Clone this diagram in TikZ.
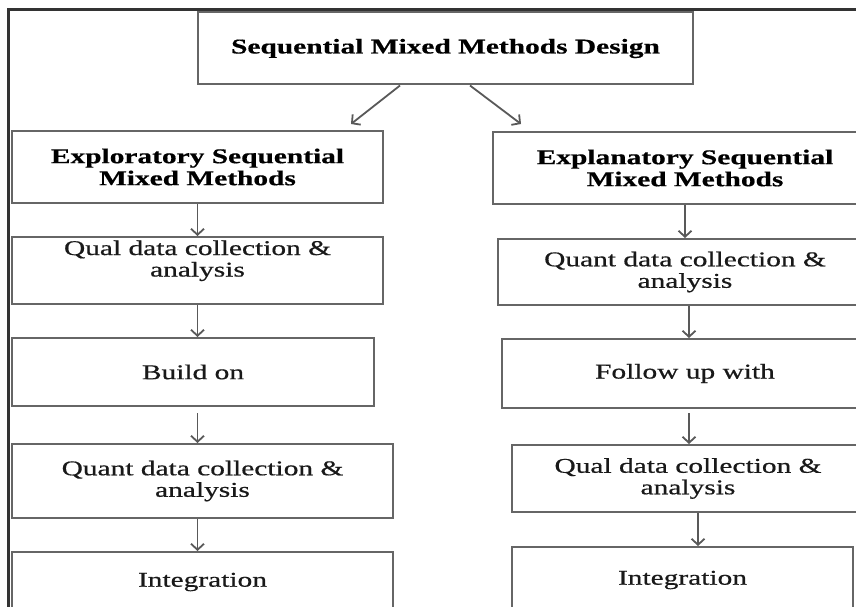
\documentclass[tikz,border=0pt]{standalone}
\usepackage{fontspec}
\setmainfont{Liberation Serif}[FakeStretch=1.4,FakeBold=0.6]
\usetikzlibrary{arrows.meta,calc}
\begin{document}
\begin{tikzpicture}[x=1pt,y=1pt,
  box/.style={draw=black!60,line width=2pt,fill=white,rectangle,inner sep=0pt,
    align=center,text=black!90,font=\fontsize{21}{21.5}\selectfont},
  bbox/.style={box,text=black,font=\fontsize{21}{22}\selectfont\bfseries},
  arr/.style={draw=black!65,line width=1.8pt,-{Straight Barb[length=6pt,width=13pt]}},
  frame/.style={draw=black!80,line width=2.8pt}]
\useasboundingbox (0,0) rectangle (856,-607);
\clip (0,0) rectangle (856,-607);
\fill[white] (0,0) rectangle (856,-607);
% outer frame
\coordinate (fa) at (8.5,-9.5);
\coordinate (fb) at (860,-9.5);
\coordinate (fc) at (8.5,-612);
\draw[frame] (fb) -- (fa) -- (fc);
% top
\node[bbox,minimum width=495,minimum height=72] (top) at (445.5,-48.5) {Sequential Mixed Methods Design};
% left column
\node[bbox,minimum width=371,minimum height=72] (l1) at (197.5,-167) {Exploratory Sequential\\Mixed Methods};
\node[box,minimum width=371,minimum height=67,text depth=24pt] (l2) at (197.5,-270.5) {Qual data collection \&\\analysis};
\node[box,minimum width=362,minimum height=68] (l3) at (193,-372) {Build on};
\node[box,minimum width=381,minimum height=74] (l4) at (202.5,-481) {Quant data collection \&\\analysis};
\node[box,minimum width=381,minimum height=60] (l5) at (202.5,-582) {Integration};
% right column
\node[bbox,minimum width=384,minimum height=72] (r1) at (685,-168) {Explanatory Sequential\\Mixed Methods};
\node[box,minimum width=374,minimum height=66] (r2) at (685,-272) {Quant data collection \&\\analysis};
\node[box,minimum width=366,minimum height=69] (r3) at (685,-373.5) {Follow up with};
\node[box,minimum width=352,minimum height=67] (r4) at (688,-478.5) {Qual data collection \&\\analysis};
\node[box,minimum width=341,minimum height=66] (r5) at (682.5,-580) {Integration};
% arrows from top
\draw[arr] ($(top.south)+(-45.5,0)$) -- ($(l1.north east)+(-33,6)$);
\draw[arr] ($(top.south)+(24.5,0)$) -- ($(r1.north west)+(29,7)$);
% left arrows
\draw[arr] (l1.south) -- (l2.north);
\draw[arr] (l2.south) -- (l2.south |- l3.north);
\draw[arr] ($(l2.south |- l3.south)+(0,-6)$) -- (l2.south |- l4.north);
\draw[arr] (l2.south |- l4.south) -- (l2.south |- l5.north);
% right arrows
\draw[arr] (r1.south) -- (r1.south |- r2.north);
\draw[arr] ($(r2.south)+(4,0)$) -- ($(r2.south |- r3.north)+(4,0)$);
\draw[arr] ($(r2.south |- r3.south)+(4,-4)$) -- ($(r2.south |- r4.north)+(4,0)$);
\draw[arr] ($(r2.south |- r4.south)+(13,0)$) -- ($(r2.south |- r5.north)+(13,0)$);
\end{tikzpicture}
\end{document}
